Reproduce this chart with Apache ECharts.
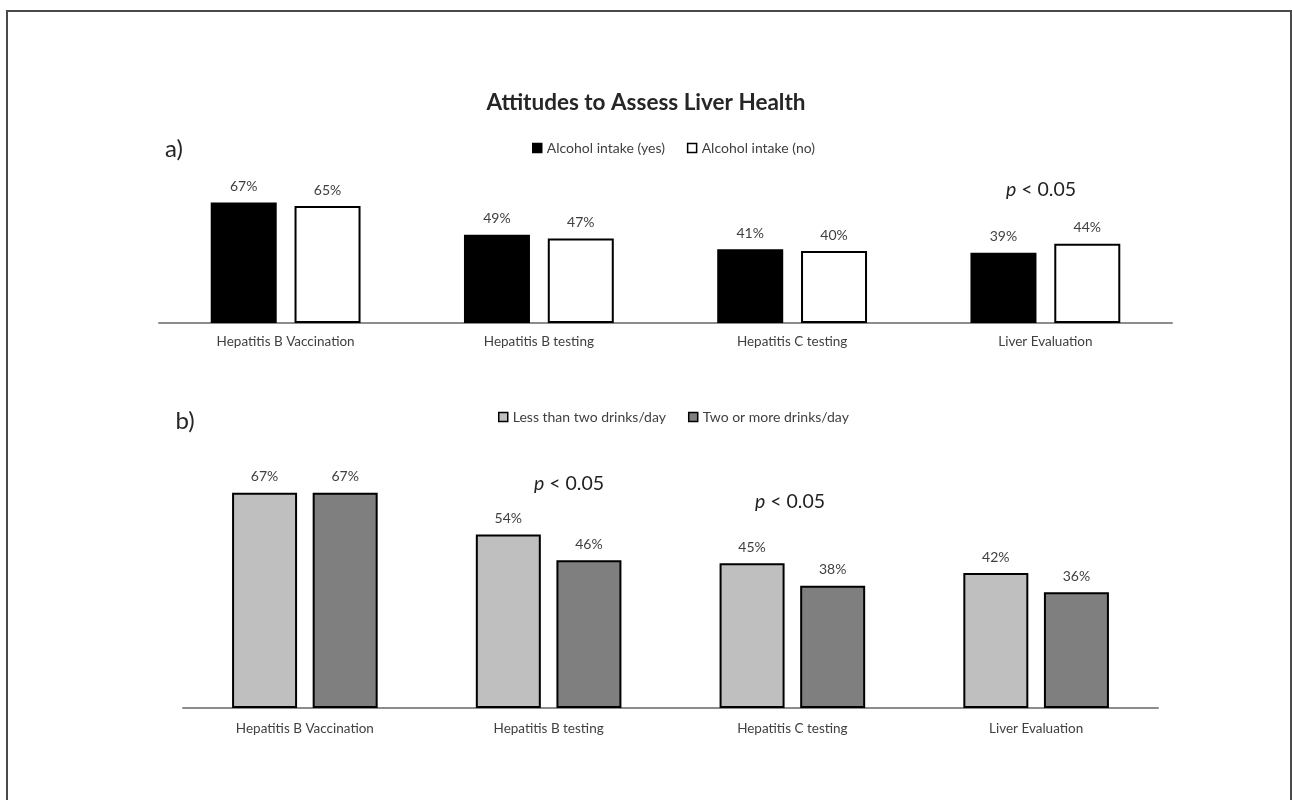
<!DOCTYPE html>
<html>
<head>
<meta charset="utf-8">
<title>Attitudes to Assess Liver Health</title>
<script src="https://cdn.jsdelivr.net/npm/echarts@6/dist/echarts.min.js"></script>
<style>
  html, body {
    margin: 0;
    padding: 0;
    background: #fff;
    overflow: hidden;
  }
  .frame {
    position: absolute;
    left: 6px;
    top: 10px;
    width: 1282px;
    height: 900px;
    border: 2px solid #4a4a4a;
  }
  #chart {
    position: absolute;
    left: 0;
    top: 0;
    width: 1292px;
    height: 800px;
  }
</style>
</head>
<body>
<div class="frame"></div>
<div id="chart"></div>
<script>
// categories shared by both panels
const categories = ["Hepatitis B Vaccination", "Hepatitis B testing", "Hepatitis C testing", "Liver Evaluation"];

// a) alcohol intake yes / no (%)
const alcoholYes = [67, 49, 41, 39];
const alcoholNo = [65, 47, 40, 44];

// b) drinks per day (%)
const lessThanTwo = [67, 54, 45, 42];
const twoOrMore = [67, 46, 38, 36];

const font = "Lato, 'Open Sans', sans-serif";
const textColor = "#404040";

const chart = echarts.init(document.getElementById("chart"));

// value label above every bar
const barLabel = {
  show: true,
  position: "top",
  distance: 9,
  formatter: "{c}%",
  fontFamily: font,
  fontSize: 14,
  color: textColor,
};

const catAxis = (gridIndex, margin) => ({
  type: "category",
  gridIndex: gridIndex,
  data: categories,
  axisLine: { lineStyle: { color: "#8c8c8c", width: 2 } },
  axisTick: { show: false },
  axisLabel: { fontFamily: font, fontSize: 13.5, color: textColor, margin: margin },
});

const valAxis = (gridIndex) => ({
  type: "value",
  gridIndex: gridIndex,
  min: 0,
  max: 70,
  show: false,
});

// p < 0.05 marks
const pText = (x, y) => ({
  type: "text",
  x: x,
  y: y,
  style: {
    text: "{i|p} < 0.05",
    rich: { i: { fontStyle: "italic", fontFamily: font, fontSize: 19.5, fill: "#222" } },
    fontFamily: font,
    fontSize: 19.5,
    fill: "#222",
    textAlign: "center",
    textVerticalAlign: "middle",
  },
});

const legendText = { fontFamily: font, fontSize: 14, color: textColor };

const option = {
  animation: false,
  title: {
    text: "Attitudes to Assess Liver Health",
    left: "center",
    top: 86,
    textStyle: { fontFamily: font, fontWeight: "bold", fontSize: 22.5, color: "#262626" },
  },
  legend: [
    {
      left: 527,
      top: 136,
      itemWidth: 9,
      itemHeight: 9,
      itemGap: 22,
      icon: "rect",
      textStyle: legendText,
      data: [
        { name: "Alcohol intake (yes)", itemStyle: { color: "#000", borderColor: "#000", borderWidth: 1.5 } },
        { name: "Alcohol intake (no)", itemStyle: { color: "#fff", borderColor: "#000", borderWidth: 1.5 } },
      ],
    },
    {
      left: 493,
      top: 405,
      itemWidth: 9,
      itemHeight: 9,
      itemGap: 22,
      icon: "rect",
      textStyle: legendText,
      data: [
        { name: "Less than two drinks/day", itemStyle: { color: "#bfbfbf", borderColor: "#000", borderWidth: 1.5 } },
        { name: "Two or more drinks/day", itemStyle: { color: "#7f7f7f", borderColor: "#000", borderWidth: 1.5 } },
      ],
    },
  ],
  grid: [
    { left: 159, width: 1013, top: 197, height: 126 },
    { left: 183, width: 975, top: 483, height: 225 },
  ],
  xAxis: [catAxis(0, 12), catAxis(1, 14)],
  yAxis: [valAxis(0), valAxis(1)],
  series: [
    {
      name: "Alcohol intake (yes)",
      type: "bar",
      xAxisIndex: 0,
      yAxisIndex: 0,
      barWidth: 66,
      barGap: "27%",
      data: alcoholYes,
      itemStyle: { color: "#000", borderColor: "#000", borderWidth: 2 },
      label: barLabel,
    },
    {
      name: "Alcohol intake (no)",
      type: "bar",
      xAxisIndex: 0,
      yAxisIndex: 0,
      barWidth: 66,
      barGap: "27%",
      data: alcoholNo,
      itemStyle: { color: "#fff", borderColor: "#000", borderWidth: 2 },
      label: barLabel,
    },
    {
      name: "Less than two drinks/day",
      type: "bar",
      xAxisIndex: 1,
      yAxisIndex: 1,
      barWidth: 65,
      barGap: "24%",
      data: lessThanTwo,
      itemStyle: { color: "#bfbfbf", borderColor: "#000", borderWidth: 2 },
      label: barLabel,
    },
    {
      name: "Two or more drinks/day",
      type: "bar",
      xAxisIndex: 1,
      yAxisIndex: 1,
      barWidth: 65,
      barGap: "24%",
      data: twoOrMore,
      itemStyle: { color: "#7f7f7f", borderColor: "#000", borderWidth: 2 },
      label: barLabel,
    },
  ],
  graphic: [
    {
      type: "text",
      x: 174,
      y: 149,
      style: { text: "a)", fontFamily: font, fontSize: 24, fill: "#262626", textAlign: "center", textVerticalAlign: "middle" },
    },
    {
      type: "text",
      x: 185,
      y: 421,
      style: { text: "b)", fontFamily: font, fontSize: 24, fill: "#262626", textAlign: "center", textVerticalAlign: "middle" },
    },
    pText(1041, 190),
    pText(569, 484),
    pText(790, 502),
  ],
};

chart.setOption(option);
</script>
</body>
</html>
